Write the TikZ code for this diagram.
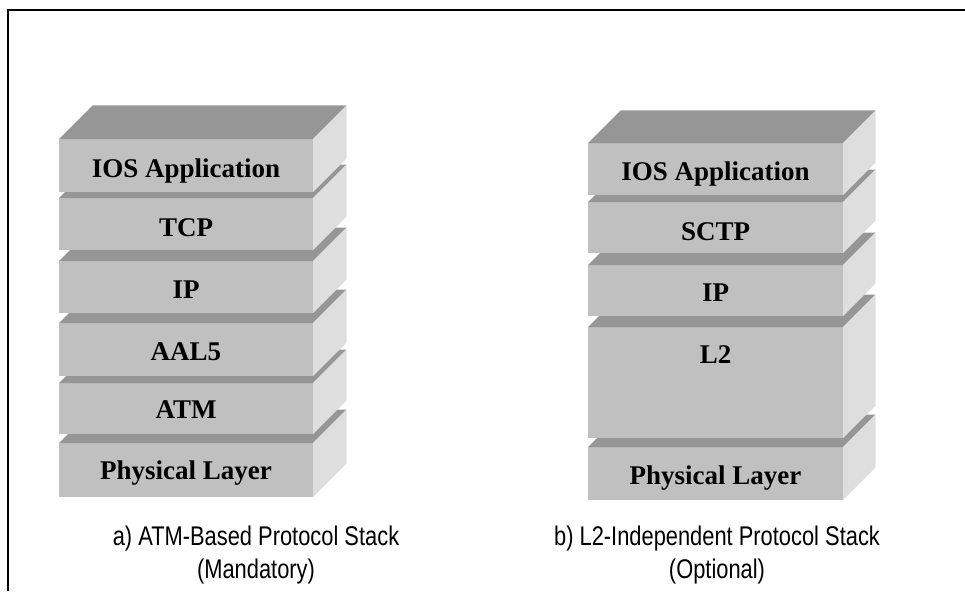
\documentclass[tikz,border=0pt]{standalone}
\usepackage{fontspec}
\setmainfont{Liberation Serif}
\newfontfamily\capfont[FakeStretch=0.81]{Liberation Sans}
\definecolor{frontc}{HTML}{C0C0C0}
\definecolor{topc}{HTML}{969696}
\definecolor{sidec}{HTML}{DEDEDE}
\tikzset{
  framelinestyle/.style={line width=2pt, black},
  layerlabel/.style={font=\bfseries\fontsize{27}{29}\selectfont, text=black, inner sep=0pt, anchor=base},
  captionlabel/.style={font=\capfont\fontsize{27}{33}\selectfont, align=center, inner sep=0pt, text=black}
}
% \blockdraw{x0}{x1}{ytop}{ybot}{depth}
\newcommand{\blockdraw}[5]{%
  \fill[frontc] (#1,#3) rectangle (#2,#4);
  \fill[topc] (#1,#3) -- ({#1+#5},{#3-#5}) -- ({#2+#5},{#3-#5}) -- (#2,#3) -- cycle;
  \fill[sidec] (#2,#3) -- ({#2+#5},{#3-#5}) -- ({#2+#5},{#4-#5}) -- (#2,#4) -- cycle;
}
\begin{document}
\begin{tikzpicture}[x=1pt,y=-1pt]
\useasboundingbox (0,0) rectangle (965,591);
% frame (top and left edges)
\coordinate (fbl) at (7.5,591);
\coordinate (ftl) at (7.5,10.5);
\coordinate (ftr) at (965,10.5);
\draw[framelinestyle] (fbl) -- (ftl) -- (ftr);
% left stack (bottom first)
\blockdraw{59}{313}{443}{497}{33.5}
\blockdraw{59}{313}{383}{434}{33.5}
\blockdraw{59}{313}{323}{376}{33.5}
\blockdraw{59}{313}{261}{313}{33.5}
\blockdraw{59}{313}{198}{250}{33.5}
\blockdraw{59}{313}{139}{192}{33.5}
\node[layerlabel] (a1) at (186,177) {IOS Application};
\node[layerlabel] (a2) at (186,236) {TCP};
\node[layerlabel] (a3) at (186,298) {IP};
\node[layerlabel] (a4) at (186,360) {AAL5};
\node[layerlabel] (a5) at (186,418) {ATM};
\node[layerlabel] (a6) at (186,479) {Physical Layer};
% right stack
\blockdraw{588}{843}{447}{500}{32.5}
\blockdraw{588}{843}{327}{438}{32.5}
\blockdraw{588}{843}{265}{316}{32.5}
\blockdraw{588}{843}{202}{253}{32.5}
\blockdraw{588}{843}{143}{195}{32.5}
\node[layerlabel] (b1) at (715.5,180) {IOS Application};
\node[layerlabel] (b2) at (715.5,240) {SCTP};
\node[layerlabel] (b3) at (715.5,301) {IP};
\node[layerlabel] (b4) at (715.5,363) {L2};
\node[layerlabel] (b5) at (715.5,484) {Physical Layer};
% captions
\node[captionlabel] (capa) at (256,555) {a) ATM-Based Protocol Stack\\(Mandatory)};
\node[captionlabel] (capb) at (717,555) {b) L2-Independent Protocol Stack\\(Optional)};
\end{tikzpicture}
\end{document}
